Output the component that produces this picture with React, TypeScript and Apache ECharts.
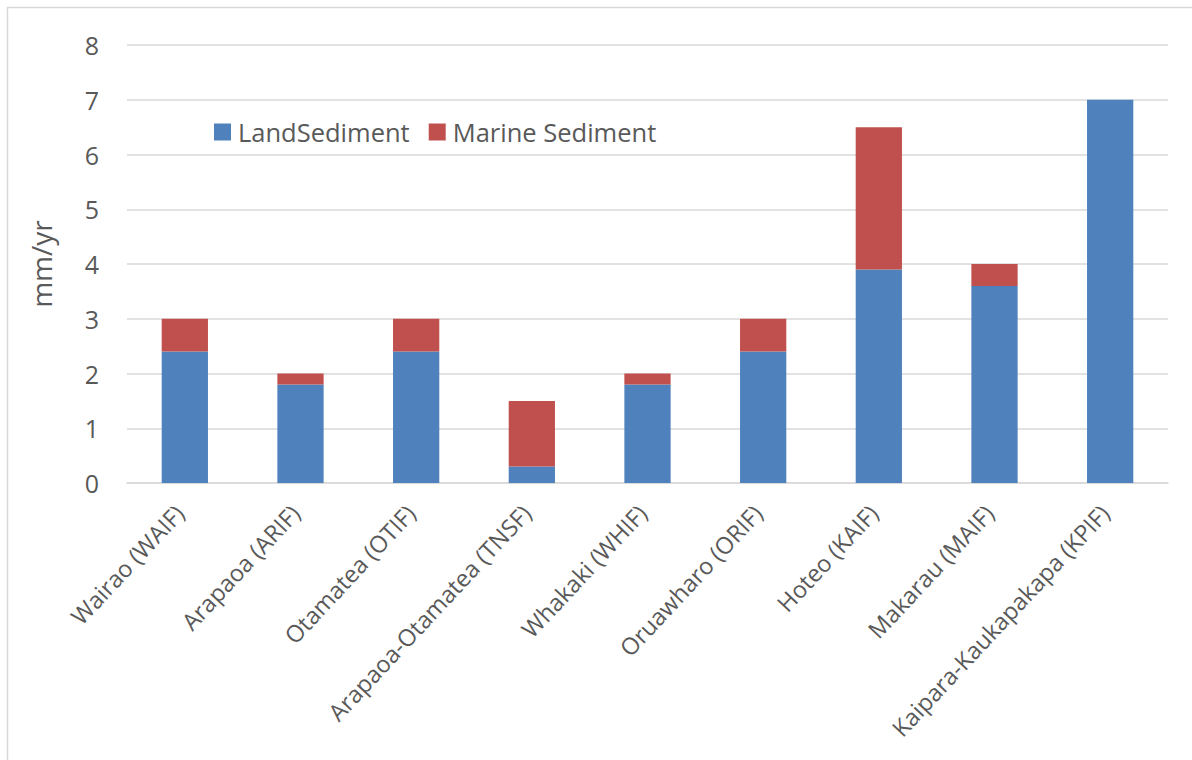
import React, { useEffect, useRef } from "react";
import * as echarts from "echarts";

// Catchment / site names along the x axis
const sites = [
  "Wairao (WAIF)",
  "Arapaoa (ARIF)",
  "Otamatea (OTIF)",
  "Arapaoa-Otamatea (TNSF)",
  "Whakaki (WHIF)",
  "Oruawharo (ORIF)",
  "Hoteo (KAIF)",
  "Makarau (MAIF)",
  "Kaipara-Kaukapakapa (KPIF)",
];

// Sedimentation rates, mm/yr (stacked)
const landSediment = [2.4, 1.8, 2.4, 0.3, 1.8, 2.4, 3.9, 3.6, 7.0];
const marineSediment = [0.6, 0.2, 0.6, 1.2, 0.2, 0.6, 2.6, 0.4, 0.0];

const seriesNames = ["LandSediment", "Marine Sediment"];
const yTicks = { min: 0, max: 8, interval: 1 };

const FONT = "'Open Sans', sans-serif";
const TEXT = "#595959";
const GRID = "#d9d9d9";

export default function App() {
  const ref = useRef<HTMLDivElement>(null);

  useEffect(() => {
    if (!ref.current) return;
    const chart = echarts.init(ref.current, undefined, { renderer: "svg" });
    chart.setOption({
      animation: false,
      backgroundColor: "#ffffff",
      textStyle: { fontFamily: FONT },
      grid: {
        left: 127,
        right: 24,
        top: 45,
        bottom: 277,
        containLabel: false,
        outerBoundsMode: "none",
      },
      legend: {
        left: 214,
        top: 119,
        padding: 0,
        itemWidth: 17,
        itemHeight: 17,
        itemGap: 19,
        icon: "rect",
        data: seriesNames,
        textStyle: { color: TEXT, fontSize: 25.5, fontFamily: FONT, padding: [0, 0, 0, 2] },
      },
      xAxis: {
        type: "category",
        data: sites,
        axisLine: { show: true, lineStyle: { color: GRID, width: 1.5 } },
        axisTick: { show: false },
        axisLabel: {
          rotate: 47,
          interval: 0,
          margin: 20,
          padding: [0, 8, 0, 0],
          color: TEXT,
          fontSize: 23.5,
          fontFamily: FONT,
        },
      },
      yAxis: {
        type: "value",
        min: yTicks.min,
        max: yTicks.max,
        interval: yTicks.interval,
        name: "mm/yr",
        nameLocation: "middle",
        nameGap: 72,
        nameRotate: 90,
        nameTextStyle: { color: TEXT, fontSize: 28, fontFamily: FONT },
        axisLine: { show: false },
        axisTick: { show: false },
        splitLine: { lineStyle: { color: GRID, width: 1.5 } },
        axisLabel: { color: TEXT, fontSize: 25, fontFamily: FONT, margin: 28 },
      },
      series: [
        {
          name: seriesNames[0],
          type: "bar",
          stack: "total",
          barWidth: "40%",
          data: landSediment,
          itemStyle: { color: "#4F81BD" },
        },
        {
          name: seriesNames[1],
          type: "bar",
          stack: "total",
          barWidth: "40%",
          data: marineSediment,
          itemStyle: { color: "#C0504D" },
        },
      ],
      graphic: [
        {
          type: "rect",
          silent: true,
          shape: { x: 7.5, y: 7.5, width: 1400, height: 1000 },
          style: { fill: "none", stroke: GRID, lineWidth: 1.5 },
        },
      ],
    });
    return () => chart.dispose();
  }, []);

  return (
    <div
      ref={ref}
      style={{ position: "fixed", left: 0, top: 0, width: 1192, height: 760, background: "#fff" }}
    />
  );
}
